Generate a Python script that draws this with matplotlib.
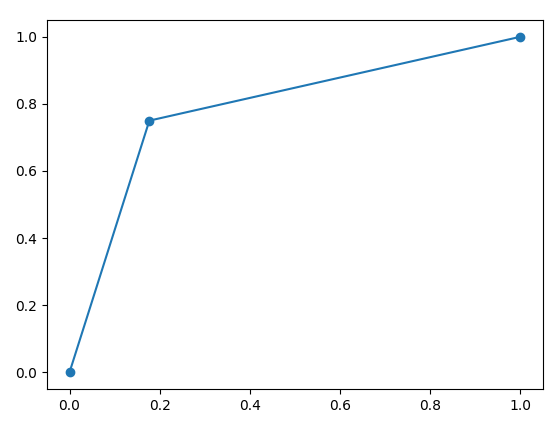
import matplotlib
matplotlib.use('Agg')
import matplotlib.pyplot as plt

# ROC-style points
fpr = [0.0, 0.177, 1.0]
tpr = [0.0, 0.75, 1.0]

fig = plt.figure(figsize=(5.6, 4.28), dpi=100)
fig.subplots_adjust(left=47/560, right=543/560, bottom=1-389/428, top=1-20/428)
plt.plot(fpr, tpr, marker='o')
plt.savefig('out.png', dpi=100)
